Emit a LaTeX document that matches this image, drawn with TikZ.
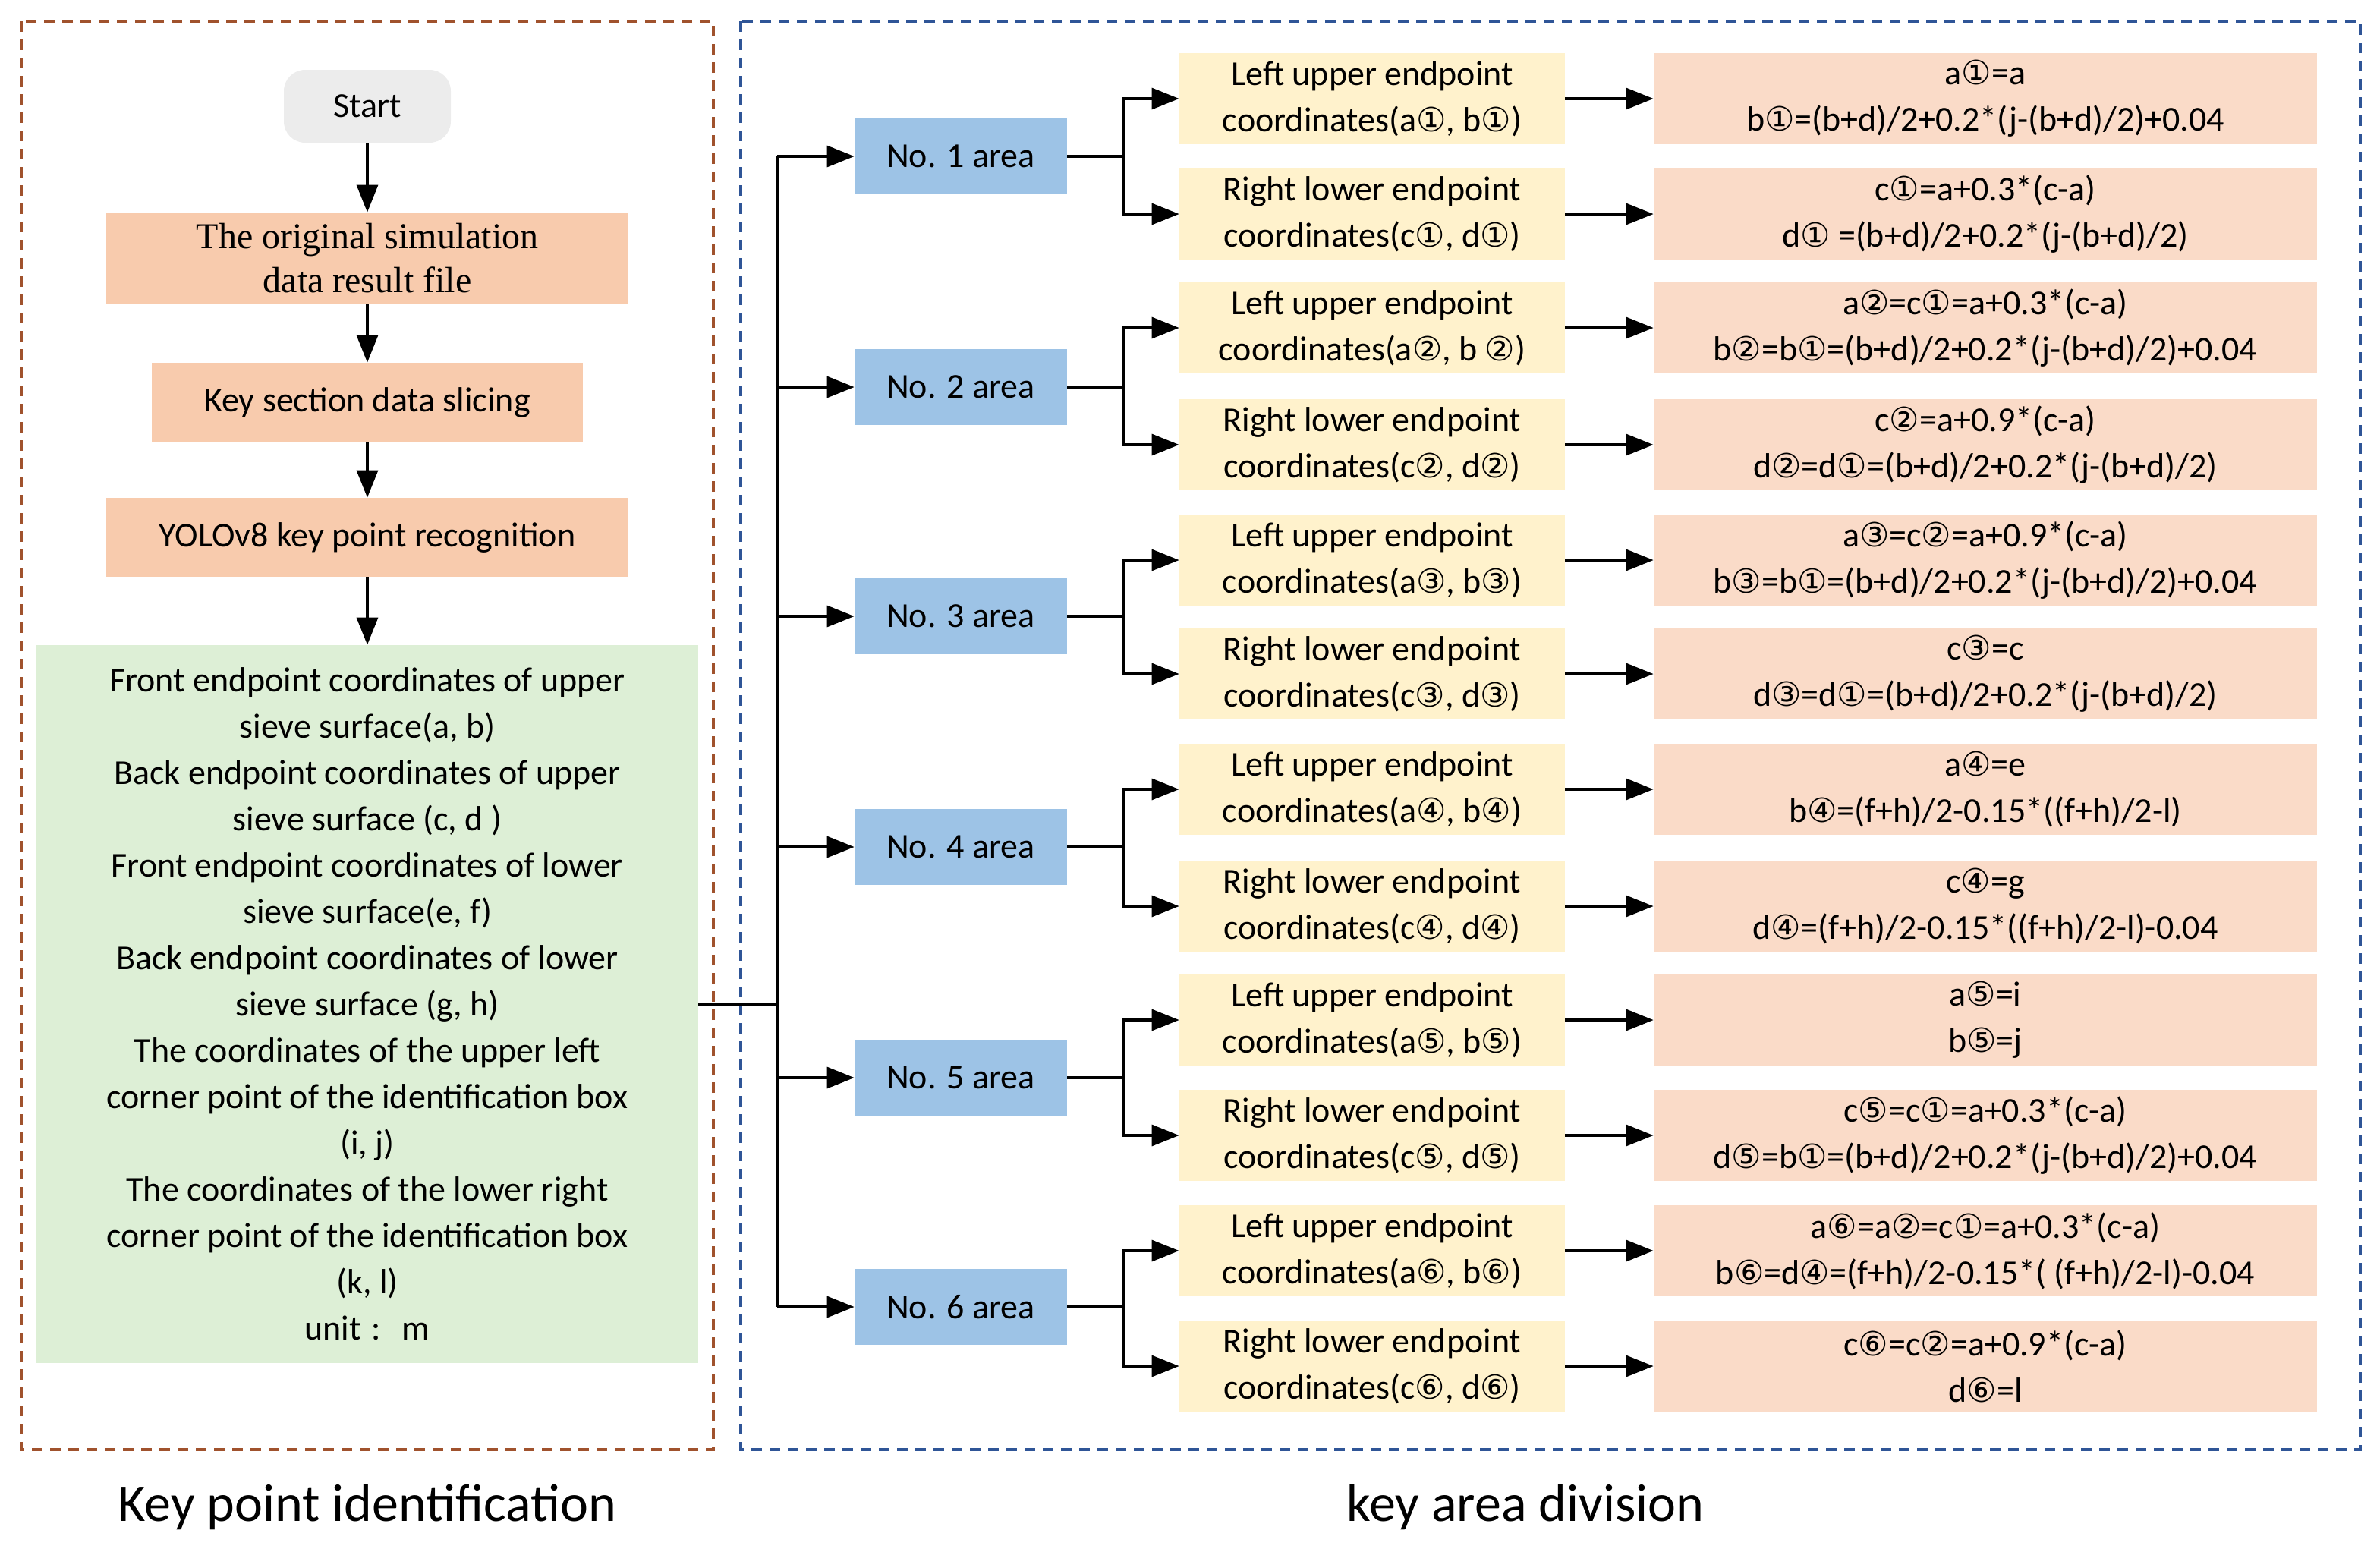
\documentclass[tikz,border=0pt]{standalone}
\usepackage{fontspec}
\setmainfont{Carlito}
\newfontfamily\cir{DejaVu Sans}
\newfontfamily\srf{Liberation Serif}
\newcommand\cA{{\cir\fontsize{22}{22}\selectfont ①}}
\newcommand\cB{{\cir\fontsize{22}{22}\selectfont ②}}
\newcommand\cC{{\cir\fontsize{22}{22}\selectfont ③}}
\newcommand\cD{{\cir\fontsize{22}{22}\selectfont ④}}
\newcommand\cE{{\cir\fontsize{22}{22}\selectfont ⑤}}
\newcommand\cF{{\cir\fontsize{22}{22}\selectfont ⑥}}
\usetikzlibrary{arrows.meta}
\definecolor{org}{HTML}{F8CBAD}
\definecolor{peach}{HTML}{FADBC8}
\definecolor{grn}{HTML}{DDEFD6}
\definecolor{blu}{HTML}{9DC3E6}
\definecolor{yel}{HTML}{FFF2CC}
\definecolor{brn}{HTML}{A0522D}
\definecolor{dblu}{HTML}{2F5597}
\begin{document}
\begin{tikzpicture}[x=1pt,y=-1pt,
  every node/.style={font=\fontsize{23}{30.5}\selectfont, inner sep=0pt, align=center},
  arr/.style={-{Triangle[length=18pt,width=14pt]}, line width=1.6pt},
  ln/.style={line width=1.6pt},
  area/.style={fill=blu, minimum width=140pt, minimum height=50pt},
  sub/.style={fill=yel, minimum width=254pt, minimum height=60pt},
  frm/.style={fill=peach, minimum width=437pt, minimum height=60pt},
  ob/.style={fill=org, minimum height=52pt}]
\useasboundingbox (0,0) rectangle (1568,1020);
\draw[brn, dashed, line width=1.6pt, dash pattern=on 7pt off 5pt] (14,14) rectangle (470,955);
\draw[dblu, dashed, line width=1.6pt, dash pattern=on 7pt off 5pt] (488,14) rectangle (1555,955);
\node[fill=gray!15, rounded corners=14pt, minimum width=110pt, minimum height=48pt] (st) at (242,70) {Start};
\node[ob, minimum width=344pt, minimum height=60pt, font=\srf\fontsize{24}{29}\selectfont] (b1) at (242,170) {The original simulation\\data result file};
\node[ob, minimum width=284pt] (b2) at (242,265) {Key section data slicing};
\node[ob, minimum width=344pt] (b3) at (242,354) {YOLOv8 key point recognition};
\node[fill=grn, minimum width=436pt, minimum height=473pt] (g) at (242,661.5) {Front endpoint coordinates of upper\\sieve surface(a, b)\\Back endpoint coordinates of upper\\sieve surface (c, d )\\Front endpoint coordinates of lower\\sieve surface(e, f)\\Back endpoint coordinates of lower\\sieve surface (g, h)\\The coordinates of the upper left\\corner point of the identification box\\(i, j)\\The coordinates of the lower right\\corner point of the identification box\\(k, l)\\unit\hspace{0.3em}: \hspace{0.3em}m};
\draw[arr] (st) -- (b1); \draw[arr] (b1) -- (b2); \draw[arr] (b2) -- (b3); \draw[arr] (b3) -- (g);
\coordinate (tr) at (512,662);
\draw[ln] (g.east |- tr) -- (tr);
\draw[ln] (512,103) -- (512,861);
\foreach \i/\y in {1/103,2/255,3/406,4/558,5/710,6/861}{
  \node[area] (a\i) at (633,\y) {No. \i\ area};
  \coordinate (t\i) at (512,\y);
  \draw[arr] (t\i) -- (a\i);
  \coordinate (s\i) at (740,\y);
  \draw[ln] (a\i) -- (s\i);
}
\newcommand\row[5]{%
  \node[sub] (u#1) at (904,#2) {#3};
  \node[frm] (f#1) at (1308,#2) {#4};
  \draw[arr] (s#5) |- (u#1);
  \draw[arr] (u#1) -- (f#1);}
\row{1}{65}{Left upper endpoint\\coordinates(a\cA, b\cA)}{a\cA=a\\b\cA=(b+d)/2+0.2*(j-(b+d)/2)+0.04}{1}
\row{2}{141}{Right lower endpoint\\coordinates(c\cA, d\cA)}{c\cA=a+0.3*(c-a)\\d\cA\ =(b+d)/2+0.2*(j-(b+d)/2)}{1}
\row{3}{216}{Left upper endpoint\\coordinates(a\cB, b \cB)}{a\cB=c\cA=a+0.3*(c-a)\\b\cB=b\cA=(b+d)/2+0.2*(j-(b+d)/2)+0.04}{2}
\row{4}{293}{Right lower endpoint\\coordinates(c\cB, d\cB)}{c\cB=a+0.9*(c-a)\\d\cB=d\cA=(b+d)/2+0.2*(j-(b+d)/2)}{2}
\row{5}{369}{Left upper endpoint\\coordinates(a\cC, b\cC)}{a\cC=c\cB=a+0.9*(c-a)\\b\cC=b\cA=(b+d)/2+0.2*(j-(b+d)/2)+0.04}{3}
\row{6}{444}{Right lower endpoint\\coordinates(c\cC, d\cC)}{c\cC=c\\d\cC=d\cA=(b+d)/2+0.2*(j-(b+d)/2)}{3}
\row{7}{520}{Left upper endpoint\\coordinates(a\cD, b\cD)}{a\cD=e\\b\cD=(f+h)/2-0.15*((f+h)/2-l)}{4}
\row{8}{597}{Right lower endpoint\\coordinates(c\cD, d\cD)}{c\cD=g\\d\cD=(f+h)/2-0.15*((f+h)/2-l)-0.04}{4}
\row{9}{672}{Left upper endpoint\\coordinates(a\cE, b\cE)}{a\cE=i\\b\cE=j}{5}
\row{10}{748}{Right lower endpoint\\coordinates(c\cE, d\cE)}{c\cE=c\cA=a+0.3*(c-a)\\d\cE=b\cA=(b+d)/2+0.2*(j-(b+d)/2)+0.04}{5}
\row{11}{824}{Left upper endpoint\\coordinates(a\cF, b\cF)}{a\cF=a\cB=c\cA=a+0.3*(c-a)\\b\cF=d\cD=(f+h)/2-0.15*( (f+h)/2-l)-0.04}{6}
\row{12}{900}{Right lower endpoint\\coordinates(c\cF, d\cF)}{c\cF=c\cB=a+0.9*(c-a)\\d\cF=l}{6}
\node[font=\fontsize{35}{38}\selectfont] (l1) at (242,993) {Key point identification};
\node[font=\fontsize{35}{38}\selectfont] (l2) at (1005,993) {key area division};
\end{tikzpicture}
\end{document}
